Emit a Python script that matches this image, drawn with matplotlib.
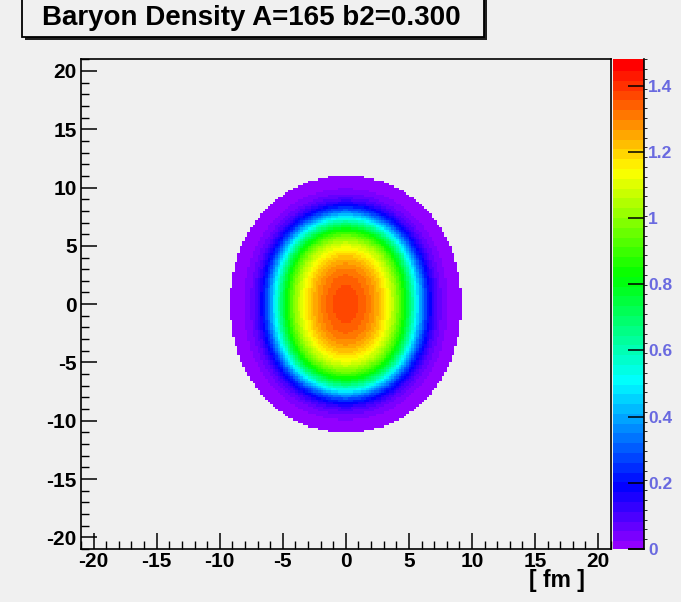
import colorsys

import numpy as np
import matplotlib
matplotlib.use("Agg")
import matplotlib.pyplot as plt
from matplotlib.colors import ListedColormap, BoundaryNorm
from matplotlib.patches import Rectangle

plt.rcParams["axes.unicode_minus"] = False

# ---- nucleus parameters (deformed Woods-Saxon) ----
mass_number = 165
beta2 = 0.300
r0 = 1.22            # fm, radius parameter R = r0 * A^(1/3)
diffuseness = 0.65   # fm
rho0 = 0.114         # fm^-3, central density
density_cut = 0.006  # bins below this are left empty

# ---- histogram / axis settings ----
n_bins = 210
axis_range = (-21.0, 21.0)
z_range = (0.0, 1.48)
n_levels = 50
axis_ticks = [-20, -15, -10, -5, 0, 5, 10, 15, 20]
cbar_ticks = [0.0, 0.2, 0.4, 0.6, 0.8, 1.0, 1.2, 1.4]
cbar_ticklabels = ["0", "0.2", "0.4", "0.6", "0.8", "1", "1.2", "1.4"]
title_text = "Baryon Density A=165 b2=0.300"
x_title = "[ fm ]"

W, H = 681, 602
bg = "#f0f0f0"
font = "Liberation Sans"

# ---- projected baryon density on the transverse plane ----
edges = np.linspace(axis_range[0], axis_range[1], n_bins + 1)
centers = 0.5 * (edges[1:] + edges[:-1])
X, Y = np.meshgrid(centers, centers)
R0 = r0 * mass_number ** (1.0 / 3.0)
c20 = np.sqrt(5.0 / (16.0 * np.pi))
zs = np.linspace(-16.0, 16.0, 641)
dz = zs[1] - zs[0]
thickness = np.zeros_like(X)
rho2 = X ** 2 + Y ** 2
for z in zs:
    r = np.sqrt(rho2 + z * z)
    cos_t = np.divide(Y, r, out=np.zeros_like(r), where=r > 0)
    R_theta = R0 * (1.0 + beta2 * c20 * (3.0 * cos_t ** 2 - 1.0))
    thickness += rho0 / (1.0 + np.exp((r - R_theta) / diffuseness))
thickness *= dz
density = np.ma.masked_less(thickness, density_cut)

# ---- rainbow palette: violet -> red, 50 steps in HLS ----
hues = [280.0 - (i + 1) * (280.0 / n_levels) for i in range(n_levels)]
colors = [colorsys.hls_to_rgb(h / 360.0, 0.5, 1.0) for h in hues]
cmap = ListedColormap(colors)
levels = np.linspace(z_range[0], z_range[1], n_levels + 1)
norm = BoundaryNorm(levels, n_levels)

fig = plt.figure(figsize=(W / 100, H / 100), dpi=100, facecolor=bg)

def fx(px):
    return px / W

def fy(py):
    return 1.0 - py / H

left, right, top, bottom = 81.0, 610.7, 59.3, 549.0
ax = fig.add_axes([fx(left), fy(bottom), fx(right - left), (bottom - top) / H])
ax.set_facecolor(bg)
mesh = ax.pcolormesh(edges, edges, density, cmap=cmap, norm=norm, shading="flat")
ax.set_xlim(*axis_range)
ax.set_ylim(*axis_range)

for s in ax.spines.values():
    s.set_color("black")
    s.set_linewidth(1.2)

ax.set_xticks(axis_ticks)
ax.set_yticks(axis_ticks)
ax.set_xticks(np.arange(-21, 22, 1), minor=True)
ax.set_yticks(np.arange(-21, 22, 1), minor=True)
ax.tick_params(which="major", direction="in", length=11.5, width=1.1,
               top=False, right=False, labelsize=15, pad=3)
ax.tick_params(which="minor", direction="in", length=5.8, width=1.0,
               top=False, right=False)
ax.tick_params(axis="x", which="major", pad=2)
for lab in ax.get_xticklabels() + ax.get_yticklabels():
    lab.set_fontweight("bold")
    lab.set_family(font)

fig.text(fx(585), fy(581), x_title, ha="right", va="center",
         fontsize=16.5, fontweight="bold", family=font)

# ---- colour scale ----
cax = fig.add_axes([fx(613.3), fy(bottom), fx(644 - 613.3), (bottom - top) / H])
cb = fig.colorbar(mesh, cax=cax, ticks=cbar_ticks, drawedges=False)
cb.outline.set_visible(False)
cb.solids.set_edgecolor("face")
cax.set_yticklabels(cbar_ticklabels)
cax.tick_params(direction="in", length=11.5, width=1.1, colors="black",
                labelcolor="#6a6ae0", labelsize=12.5, pad=3)
for lab in cax.get_yticklabels():
    lab.set_fontweight("bold")
    lab.set_family(font)
cax.plot([1, 1], [0, 1], transform=cax.transAxes, color="black", lw=1.2,
         clip_on=False)
cax.plot([0.5, 1], [0, 0], transform=cax.transAxes, color="black", lw=1.2,
         clip_on=False)

# ---- title box with shadow ----
bx0, bx1, by0, by1 = 22.0, 484.0, -6.0, 37.0
shadow = Rectangle((fx(bx0 + 3), fy(by1 + 3)), fx(bx1 - bx0), (by1 - by0) / H,
                   transform=fig.transFigure, facecolor="#202020",
                   edgecolor="none", zorder=1)
box = Rectangle((fx(bx0), fy(by1)), fx(bx1 - bx0), (by1 - by0) / H,
                transform=fig.transFigure, facecolor=bg,
                edgecolor="black", linewidth=1.3, zorder=2)
fig.add_artist(shadow)
fig.add_artist(box)
fig.text(fx(251), fy(18), title_text, ha="center", va="center",
         fontsize=20, fontweight="bold", family=font, zorder=3)

fig.savefig("out.png", dpi=100, facecolor=bg)
